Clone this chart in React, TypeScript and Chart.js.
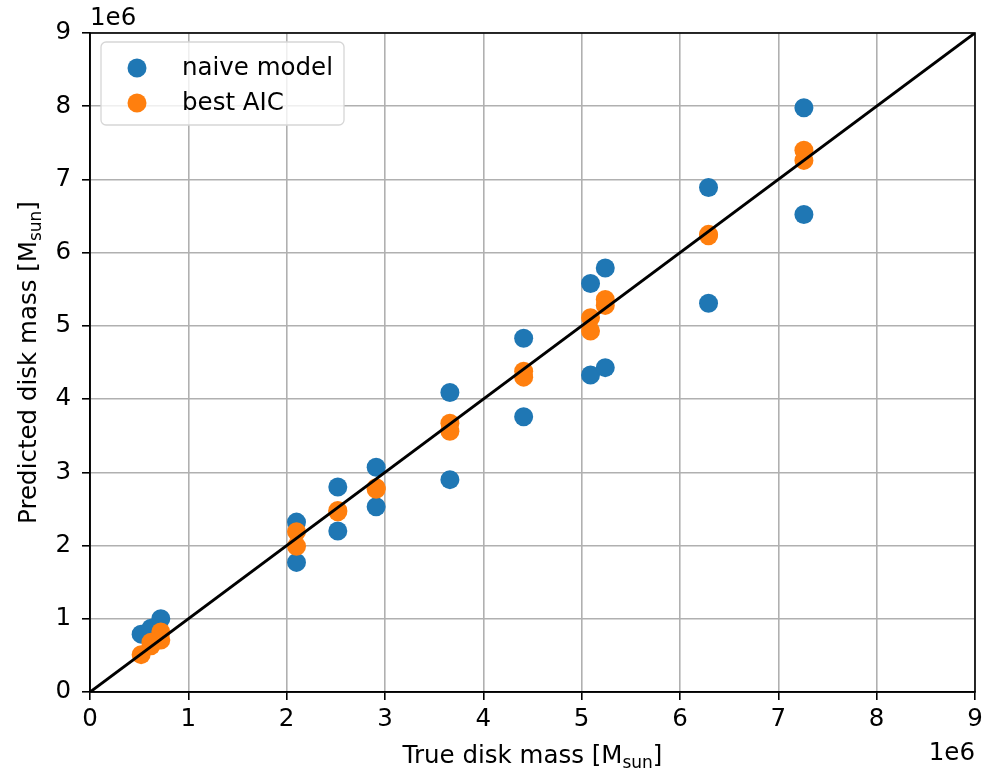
import React, { useEffect, useRef } from "react";
import { Chart, registerables } from "chart.js";

Chart.register(...registerables);

// Disk masses in solar masses
const naiveTrue = [
  0.52e6, 0.62e6, 0.72e6, 2.1e6, 2.1e6, 2.52e6, 2.52e6, 2.91e6, 2.91e6, 3.66e6, 3.66e6,
  4.41e6, 4.41e6, 5.09e6, 5.09e6, 5.24e6, 5.24e6, 6.29e6, 6.29e6, 7.26e6, 7.26e6,
];
const naivePred = [
  0.79e6, 0.87e6, 1.0e6, 2.32e6, 1.77e6, 2.8e6, 2.2e6, 3.07e6, 2.53e6, 4.09e6, 2.9e6,
  4.83e6, 3.76e6, 5.58e6, 4.33e6, 5.79e6, 4.43e6, 6.89e6, 5.31e6, 7.98e6, 6.52e6,
];
const aicTrue = [
  0.52e6, 0.62e6, 0.62e6, 0.72e6, 0.72e6, 2.1e6, 2.1e6, 2.52e6, 2.52e6, 2.91e6, 2.91e6,
  3.66e6, 3.66e6, 4.41e6, 4.41e6, 5.09e6, 5.09e6, 5.24e6, 5.24e6, 6.29e6, 6.29e6, 7.26e6, 7.26e6,
];
const aicPred = [
  0.51e6, 0.63e6, 0.68e6, 0.82e6, 0.71e6, 2.19e6, 1.99e6, 2.48e6, 2.46e6, 2.79e6, 2.77e6,
  3.67e6, 3.56e6, 4.38e6, 4.3e6, 5.11e6, 4.93e6, 5.36e6, 5.28e6, 6.25e6, 6.23e6, 7.4e6, 7.26e6,
];
const identityLine = [0, 9e6];
const axisMax = 9e6;
const seriesNames = ["naive model", "best AIC"];
const seriesColors = ["#1f77b4", "#ff7f0e"];
const xTitle = ["True disk mass [M", "sun", "]"];
const yTitle = ["Predicted disk mass [M", "sun", "]"];
const offsetLabel = "1e6";

const FONT = "DejaVu Sans";
const FS = 24.5;

function drawSubscripted(ctx: CanvasRenderingContext2D, parts: string[], cx: number, cy: number) {
  const big = `${FS}px "${FONT}"`;
  const small = `${Math.round(FS * 0.7)}px "${FONT}"`;
  ctx.font = big;
  const w0 = ctx.measureText(parts[0]).width;
  const w2 = ctx.measureText(parts[2]).width;
  ctx.font = small;
  const w1 = ctx.measureText(parts[1]).width;
  const total = w0 + w1 + w2;
  let x = cx - total / 2;
  ctx.textAlign = "left";
  ctx.textBaseline = "middle";
  ctx.font = big;
  ctx.fillText(parts[0], x, cy);
  x += w0;
  ctx.font = small;
  ctx.fillText(parts[1], x, cy + FS * 0.28);
  x += w1;
  ctx.font = big;
  ctx.fillText(parts[2], x, cy);
}

const decorations = {
  id: "decorations",
  afterDraw(chart: any) {
    const { ctx, chartArea } = chart;
    const { left, right, top, bottom } = chartArea;
    ctx.save();
    // frame (top and right spines)
    ctx.strokeStyle = "#000";
    ctx.lineWidth = 1.6;
    ctx.strokeRect(left, top, right - left, bottom - top);

    // legend
    const lx = 101, ly = 42, lw = 243, lh = 83, r = 5;
    ctx.beginPath();
    ctx.moveTo(lx + r, ly);
    ctx.arcTo(lx + lw, ly, lx + lw, ly + lh, r);
    ctx.arcTo(lx + lw, ly + lh, lx, ly + lh, r);
    ctx.arcTo(lx, ly + lh, lx, ly, r);
    ctx.arcTo(lx, ly, lx + lw, ly, r);
    ctx.closePath();
    ctx.fillStyle = "rgba(255,255,255,0.8)";
    ctx.fill();
    ctx.strokeStyle = "#d6d6d6";
    ctx.lineWidth = 1.3;
    ctx.stroke();
    seriesNames.forEach((name, i) => {
      const y = 68 + i * 35;
      ctx.beginPath();
      ctx.arc(137, y, 9.5, 0, Math.PI * 2);
      ctx.fillStyle = seriesColors[i];
      ctx.fill();
      ctx.fillStyle = "#000";
      ctx.font = `${FS}px "${FONT}"`;
      ctx.textAlign = "left";
      ctx.textBaseline = "middle";
      ctx.fillText(name, 182, y + 1);
    });

    // axis titles
    ctx.fillStyle = "#000";
    drawSubscripted(ctx, xTitle, (left + right) / 2, 757);
    ctx.save();
    ctx.translate(30, (top + bottom) / 2);
    ctx.rotate(-Math.PI / 2);
    drawSubscripted(ctx, yTitle, 0, 0);
    ctx.restore();

    // offset labels
    ctx.font = `${FS}px "${FONT}"`;
    ctx.textBaseline = "alphabetic";
    ctx.textAlign = "left";
    ctx.fillText(offsetLabel, left, 25);
    ctx.textAlign = "right";
    ctx.fillText(offsetLabel, right, 760);
    ctx.restore();
  },
};

export default function App() {
  const ref = useRef<HTMLCanvasElement>(null);
  useEffect(() => {
    if (!ref.current) return;
    const tickFont = { family: FONT, size: FS };
    const chart = new Chart(ref.current, {
      type: "scatter",
      data: {
        datasets: [
          {
            type: "line",
            label: "identity",
            data: identityLine.map((v) => ({ x: v, y: v })),
            borderColor: "#000",
            borderWidth: 3,
            pointRadius: 0,
            order: 0,
          },
          {
            label: seriesNames[1],
            data: aicTrue.map((x, i) => ({ x, y: aicPred[i] })),
            backgroundColor: seriesColors[1],
            borderWidth: 0,
            pointRadius: 9.5,
            order: 1,
          },
          {
            label: seriesNames[0],
            data: naiveTrue.map((x, i) => ({ x, y: naivePred[i] })),
            backgroundColor: seriesColors[0],
            borderWidth: 0,
            pointRadius: 9.5,
            order: 2,
          },
        ],
      },
      options: {
        responsive: false,
        animation: false,
        layout: { padding: { top: 33, right: 19, left: 0, bottom: 0 } },
        plugins: { legend: { display: false }, tooltip: { enabled: false } },
        scales: {
          x: {
            type: "linear",
            min: 0,
            max: axisMax,
            afterFit: (s: any) => {
              s.height = 79;
            },
            ticks: {
              stepSize: 1e6,
              color: "#000",
              font: tickFont,
              padding: 5,
              maxRotation: 0,
              callback: (v: any) => String(Math.round(Number(v) / 1e6)),
            },
            grid: { color: "#b0b0b0", lineWidth: 1.6, tickColor: "#000", tickLength: 8 },
            border: { color: "#000", width: 1.6 },
          },
          y: {
            type: "linear",
            min: 0,
            max: axisMax,
            afterFit: (s: any) => {
              s.width = 90;
            },
            ticks: {
              stepSize: 1e6,
              color: "#000",
              font: tickFont,
              padding: 11,
              callback: (v: any) => String(Math.round(Number(v) / 1e6)),
            },
            grid: { color: "#b0b0b0", lineWidth: 1.6, tickColor: "#000", tickLength: 8 },
            border: { color: "#000", width: 1.6 },
          },
        },
      },
      plugins: [decorations],
    });
    return () => chart.destroy();
  }, []);
  return (
    <div style={{ position: "fixed", left: 0, top: 0, width: 994, height: 771, background: "#fff" }}>
      <canvas ref={ref} width={994} height={771} style={{ display: "block" }} />
    </div>
  );
}
